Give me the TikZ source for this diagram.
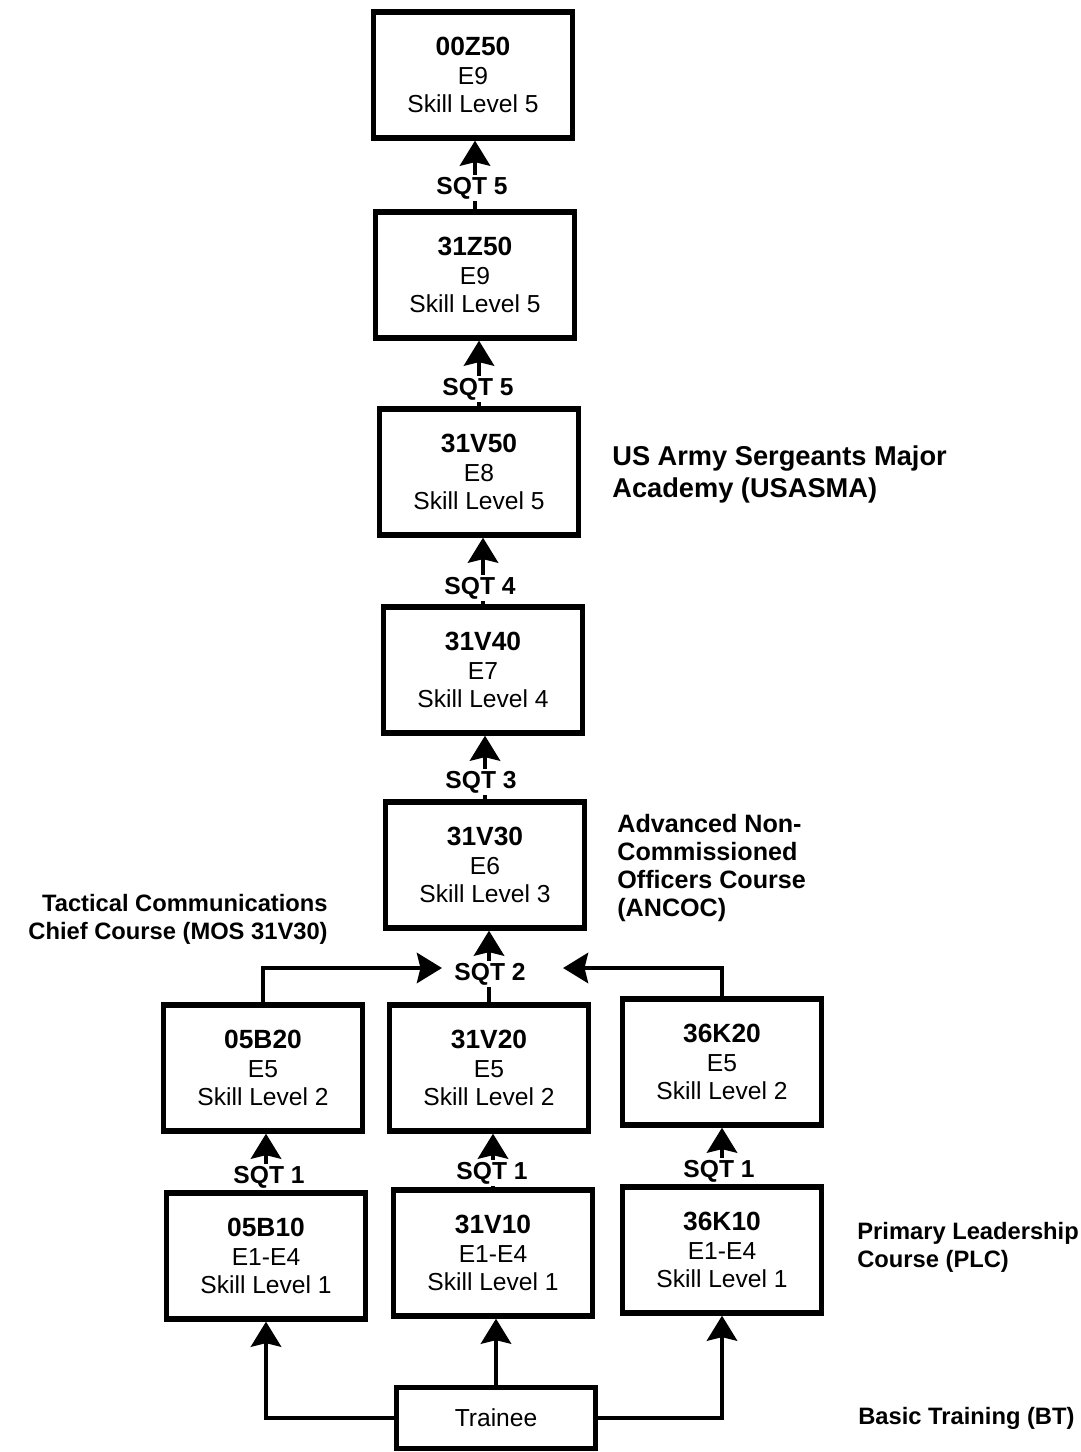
\documentclass[tikz,border=0pt]{standalone}
\usepackage{fontspec}
\setmainfont{Liberation Sans}
\usetikzlibrary{arrows.meta}
\newcommand\boxtext[3]{{\fontsize{15}{16.5}\selectfont\bfseries #1}\\#2\\Skill Level #3}
\begin{document}
\begin{tikzpicture}[x=0.02cm,y=-0.02cm,
 box/.style={draw=black, line width=3pt, minimum width=3.98cm, minimum height=2.52cm, align=center, inner sep=0pt, fill=white, font=\fontsize{14}{16.3}\selectfont},
 sqt/.style={fill=white, inner sep=1pt, font=\bfseries\fontsize{14}{16}\selectfont},
 side/.style={align=left, inner sep=0pt, font=\bfseries\fontsize{13.5}{16}\selectfont},
 arr/.style={line width=2.8pt, -{Stealth[length=0.5cm,width=0.6cm,inset=0.07cm]}},
 ln/.style={line width=2.8pt}]
\useasboundingbox[fill=white] (0,0) rectangle (1080,1452);

% boxes
\node[box] (A) at (473,75) {\boxtext{00Z50}{E9}{5}};
\node[box] (B) at (475,275) {\boxtext{31Z50}{E9}{5}};
\node[box] (C) at (479,472) {\boxtext{31V50}{E8}{5}};
\node[box] (D) at (483,670) {\boxtext{31V40}{E7}{4}};
\node[box] (E) at (485,865) {\boxtext{31V30}{E6}{3}};
\node[box] (F) at (263,1068) {\boxtext{05B20}{E5}{2}};
\node[box] (G) at (489,1068) {\boxtext{31V20}{E5}{2}};
\node[box] (H) at (722,1062) {\boxtext{36K20}{E5}{2}};
\node[box] (I) at (266,1256) {\boxtext{05B10}{E1-E4}{1}};
\node[box] (J) at (493,1253) {\boxtext{31V10}{E1-E4}{1}};
\node[box] (K) at (722,1250) {\boxtext{36K10}{E1-E4}{1}};
\node[box, minimum height=1.22cm] (T) at (496,1418) {Trainee};

% SQT labels
\node[sqt] (s5a) at (472,188) {SQT 5};
\node[sqt] (s5b) at (478,389) {SQT 5};
\node[sqt] (s4) at (480,588) {SQT 4};
\node[sqt] (s3) at (481,782) {SQT 3};
\node[sqt] (s2) at (490,974) {SQT 2};
\node[sqt] (s1a) at (269,1177) {SQT 1};
\node[sqt] (s1b) at (492,1173) {SQT 1};
\node[sqt] (s1c) at (719,1171) {SQT 1};

% vertical chains
\draw[ln] (B.north) -- (B.north |- s5a.south);
\draw[arr] (B.north |- s5a.north) -- (B.north |- A.south);
\draw[ln] (C.north) -- (C.north |- s5b.south);
\draw[arr] (C.north |- s5b.north) -- (C.north |- B.south);
\draw[ln] (D.north) -- (D.north |- s4.south);
\draw[arr] (D.north |- s4.north) -- (D.north |- C.south);
\draw[ln] (E.north) -- (E.north |- s3.south);
\draw[arr] (E.north |- s3.north) -- (E.north |- D.south);
\draw[ln] (G.north) -- (G.north |- s2.south);
\draw[arr] (G.north |- s2.north) -- (G.north |- E.south);
\draw[ln] (I.north) -- (I.north |- s1a.south);
\draw[arr] (I.north |- s1a.north) -- (I.north |- F.south);
\draw[ln] (J.north) -- (J.north |- s1b.south);
\draw[arr] (J.north |- s1b.north) -- (J.north |- G.south);
\draw[ln] (K.north) -- (K.north |- s1c.south);
\draw[arr] (K.north |- s1c.north) -- (K.north |- H.south);

% side branches into SQT 2
\coordinate (lt) at (442,968);
\coordinate (rt) at (563,968);
\draw[arr] (F.north) |- (lt);
\draw[arr] (H.north) |- (rt);

% trainee
\draw[arr] (T.west) -| (I.south);
\draw[arr] (T.north) -- (T.north |- J.south);
\draw[arr] (T.east) -| (K.south);

% side labels
\node[side, anchor=north west, font=\bfseries\fontsize{15.5}{18.2}\selectfont] (usasma) at (612,445) {US Army Sergeants Major\\Academy (USASMA)};
\node[side, anchor=north east, align=right] (tccc) at (328,894) {Tactical Communications\\Chief Course (MOS 31V30)};
\node[side, anchor=north west, font=\bfseries\fontsize{14.3}{15.9}\selectfont] (ancoc) at (617,814) {Advanced Non-\\Commissioned\\Officers Course\\(ANCOC)};
\node[side, anchor=north west] (plc) at (857,1222) {Primary Leadership\\Course (PLC)};
\node[side, anchor=north west] (bt) at (858,1407) {Basic Training (BT)};
\end{tikzpicture}
\end{document}
